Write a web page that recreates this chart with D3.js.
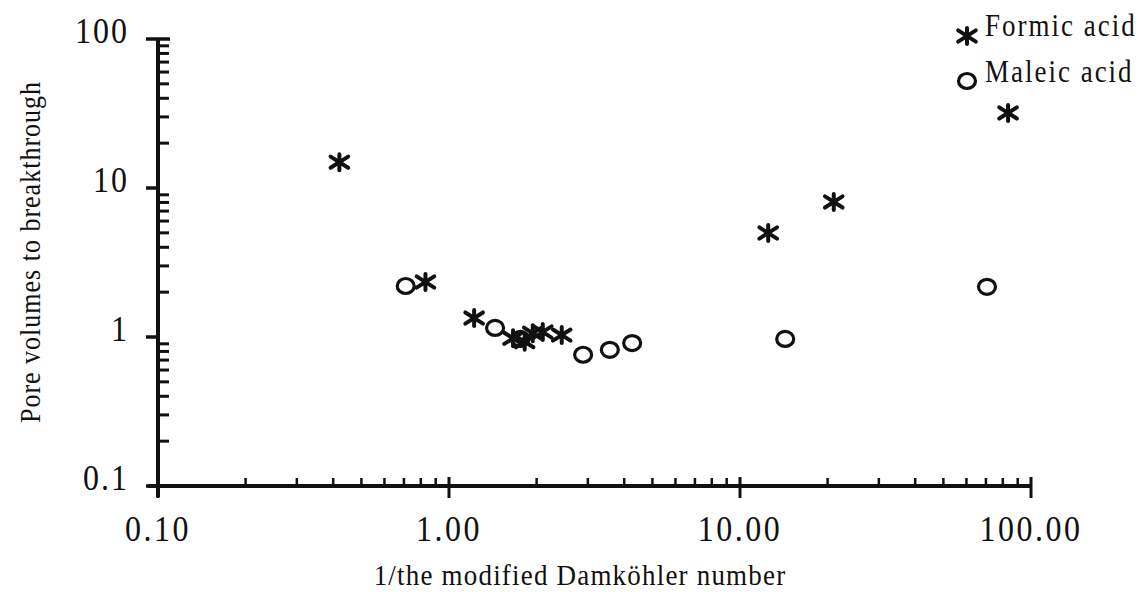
<!DOCTYPE html>
<html>
<head>
<meta charset="utf-8">
<script src="https://cdn.jsdelivr.net/npm/d3@7"></script>
<style>
  body { margin: 0; background: #fff; }
  text { font-family: "Liberation Serif", "Times New Roman", serif; fill: #111; }
</style>
</head>
<body>
<script>
// data
const formicX = [0.42, 0.83, 1.22, 1.66, 1.82, 1.94, 2.10, 2.44, 12.5, 21.0, 83.4];
const formicY = [14.9, 2.34, 1.34, 0.98, 0.93, 1.06, 1.08, 1.03, 4.99, 8.06, 31.9];
const maleicX = [0.71, 1.44, 1.76, 2.89, 3.57, 4.26, 14.3, 70.6];
const maleicY = [2.2, 1.15, 0.97, 0.76, 0.82, 0.91, 0.97, 2.17];
const xTicks = [0.1, 1, 10, 100];
const xTickLabels = ["0.10", "1.00", "10.00", "100.00"];
const yTicks = [0.1, 1, 10, 100];
const yTickLabels = ["0.1", "1", "10", "100"];
const seriesNames = ["Formic acid", "Maleic acid"];

const width = 1143, height = 599;

const svg = d3.select("body").append("svg")
    .attr("width", width)
    .attr("height", height);

const x = d3.scaleLog().domain([0.1, 100]).range([158, 1031]);
const y = d3.scaleLog().domain([0.1, 100]).range([486, 39]);

// minor ticks 2..9 in each decade
const minors = [];
[0.1, 1, 10].forEach(d => {
    for (let k = 2; k <= 9; k++) minors.push(d * k);
});

const g = svg.append("g");

// x axis minor ticks (inside, above line)
g.selectAll(".xminor")
    .data(minors)
    .enter().append("line")
    .attr("x1", d => x(d)).attr("x2", d => x(d))
    .attr("y1", y(0.1) - 8).attr("y2", y(0.1))
    .attr("stroke", "#111").attr("stroke-width", 2.5);

// y axis minor ticks (inside, right of line)
g.selectAll(".yminor")
    .data(minors)
    .enter().append("line")
    .attr("x1", x(0.1)).attr("x2", x(0.1) + 11)
    .attr("y1", d => y(d)).attr("y2", d => y(d))
    .attr("stroke", "#111").attr("stroke-width", 3);

// x major ticks
g.selectAll(".xmajor")
    .data(xTicks)
    .enter().append("line")
    .attr("x1", d => x(d)).attr("x2", d => x(d))
    .attr("y1", y(0.1) - 9).attr("y2", y(0.1) + 12)
    .attr("stroke", "#111").attr("stroke-width", 3);

// y major ticks
g.selectAll(".ymajor")
    .data(yTicks)
    .enter().append("line")
    .attr("x1", x(0.1) - 12).attr("x2", d => d === 100 ? x(0.1) + 12 : x(0.1))
    .attr("y1", d => y(d)).attr("y2", d => y(d))
    .attr("stroke", "#111").attr("stroke-width", 3.5);

// axis lines
g.append("line")
    .attr("x1", x(0.1) - 10).attr("x2", x(100))
    .attr("y1", y(0.1)).attr("y2", y(0.1))
    .attr("stroke", "#111").attr("stroke-width", 4);
g.append("line")
    .attr("x1", x(0.1)).attr("x2", x(0.1))
    .attr("y1", y(100)).attr("y2", y(0.1) + 11)
    .attr("stroke", "#111").attr("stroke-width", 4);

// tick labels (the scan is a bit stretched vertically)
g.selectAll(".xlab")
    .data(xTicks)
    .enter().append("text")
    .attr("transform", d => "translate(" + x(d) + ",541) scale(1,1.12)")
    .attr("text-anchor", "middle")
    .style("font-size", "32px")
    .style("letter-spacing", "2.5px")
    .text((d, i) => xTickLabels[i]);

g.selectAll(".ylab")
    .data(yTicks)
    .enter().append("text")
    .attr("transform", d => "translate(129," + (y(d) + 4) + ") scale(1,1.12)")
    .attr("text-anchor", "end")
    .style("font-size", "32px")
    .style("letter-spacing", "2px")
    .text((d, i) => yTickLabels[i]);

// axis titles
svg.append("text")
    .attr("transform", "translate(580,585) scale(1,1.1)")
    .attr("text-anchor", "middle")
    .style("font-size", "27px")
    .style("letter-spacing", "1.2px")
    .text("1/the modified Damköhler number");

svg.append("text")
    .attr("transform", "translate(40,252) rotate(-90) scale(1,1.1)")
    .attr("text-anchor", "middle")
    .style("font-size", "26px")
    .style("letter-spacing", "1px")
    .text("Pore volumes to breakthrough");

// markers
function asterisk(sel, s) {
    const p = d3.path();
    p.moveTo(0, -s); p.lineTo(0, s);
    p.moveTo(-s * 1.1, -s * 0.7); p.lineTo(s * 1.1, s * 0.7);
    p.moveTo(-s * 1.1, s * 0.7); p.lineTo(s * 1.1, -s * 0.7);
    sel.append("path").attr("d", p.toString())
        .attr("stroke", "#111").attr("stroke-width", 4)
        .attr("fill", "none").attr("stroke-linecap", "round");
}

const formic = formicX.map((v, i) => ({ x: v, y: formicY[i] }));
const maleic = maleicX.map((v, i) => ({ x: v, y: maleicY[i] }));

svg.selectAll(".maleic")
    .data(maleic)
    .enter().append("ellipse")
    .attr("cx", d => x(d.x))
    .attr("cy", d => y(d.y))
    .attr("rx", 8.5)
    .attr("ry", 7.5)
    .attr("fill", "none")
    .attr("stroke", "#111")
    .attr("stroke-width", 3.2);

svg.selectAll(".formic")
    .data(formic)
    .enter().append("g")
    .attr("transform", d => "translate(" + x(d.x) + "," + y(d.y) + ")")
    .each(function () { asterisk(d3.select(this), 8); });

// legend
const leg = svg.append("g");
const legMark = leg.append("g").attr("transform", "translate(967,36)");
asterisk(legMark, 8);
leg.append("ellipse")
    .attr("cx", 967).attr("cy", 81).attr("rx", 8.5).attr("ry", 7.5)
    .attr("fill", "none").attr("stroke", "#111").attr("stroke-width", 3.2);
leg.selectAll(".legtext")
    .data(seriesNames)
    .enter().append("text")
    .attr("transform", (d, i) => "translate(985," + (36 + i * 46) + ") scale(1,1.15)")
    .style("font-size", "27px")
    .style("letter-spacing", "2px")
    .text(d => d);
</script>
</body>
</html>
